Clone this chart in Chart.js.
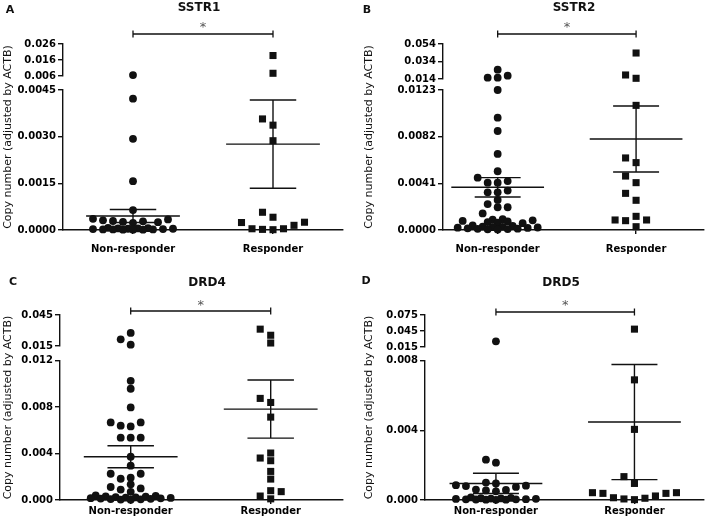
<!DOCTYPE html>
<html>
<head>
<meta charset="utf-8">
<script src="https://cdn.jsdelivr.net/npm/chart.js@4.4.0/dist/chart.umd.min.js"></script>
<style>
  html, body { margin: 0; padding: 0; background: #fff; }
  #wrap { position: relative; width: 709px; height: 524px; }
  #wrap canvas { position: absolute; }
</style>
</head>
<body>
<div id="wrap">
  <canvas id="cA" width="354" height="262" style="left:0;top:0"></canvas>
  <canvas id="cB" width="355" height="262" style="left:354px;top:0"></canvas>
  <canvas id="cC" width="354" height="262" style="left:0;top:262px"></canvas>
  <canvas id="cD" width="355" height="262" style="left:354px;top:262px"></canvas>
</div>
<script>
/* ---------- data ---------- */
const groups = ["Non-responder", "Responder"];
const yTitle = "Copy number (adjusted by ACTB)";

// A — SSTR1
const sstr1Non = [0.0066, 0.00422, 0.00293, 0.00157, 0.00064,
  0.00036, 0.00034, 0.00031, 0.00029, 0.00028, 0.00026, 0.00025, 0.00023,
  0.00007, 0.00006, 0.00005, 0.00005, 0.00004, 0.00004, 0.00003, 0.00003,
  0.00002, 0.00002, 0.00002, 0.00001, 0.00001, 0.00001];
const sstr1Resp = [0.0188, 0.0077, 0.00357, 0.00337, 0.00287, 0.00057, 0.00041,
  0.00025, 0.00015, 0.00024, 0.00004, 0.00001, 0.00002, 0.00004];
const sstr1Mean = [0.00045, 0.00276];
const sstr1Sem = [0.00021, 0.00142];
const sstr1LowTicks = ["0.0000", "0.0015", "0.0030", "0.0045"];
const sstr1TopTicks = ["0.006", "0.016", "0.026"];

// B — SSTR2
const sstr2Non = [0.0247, 0.0155, 0.0155, 0.0178, 0.0123, 0.00987, 0.0087, 0.00668,
  0.00516, 0.0046, 0.00416, 0.00416, 0.0043, 0.00331, 0.00331, 0.00346, 0.00228,
  0.002, 0.002, 0.00264, 0.00146,
  0.00095, 0.0009, 0.00085, 0.0008, 0.00075, 0.0007, 0.00065, 0.0006,
  0.0004, 0.00035, 0.0003, 0.00028, 0.00025, 0.00022, 0.0002, 0.00018, 0.00015,
  0.00012, 0.0001, 0.00008, 0.00006, 0.00004];
const sstr2Resp = [0.0437, 0.0186, 0.0148, 0.01095, 0.00633, 0.00592, 0.00474, 0.00416,
  0.00322, 0.00261, 0.0012, 0.00088, 0.00082, 0.00088, 0.00029];
const sstr2Mean = [0.00375, 0.0080];
const sstr2Sem = [0.00085, 0.0029];
const sstr2LowTicks = ["0.0000", "0.0041", "0.0082", "0.0123"];
const sstr2TopTicks = ["0.014", "0.034", "0.054"];

// C — DRD4
const drd4Non = [0.0277, 0.0215, 0.0163, 0.01025, 0.00957, 0.00796, 0.00667, 0.00639,
  0.00633, 0.00667, 0.00536, 0.00536, 0.00536, 0.00372, 0.00295, 0.00226, 0.00226,
  0.00183, 0.00192, 0.00135, 0.001, 0.00112, 0.0009, 0.0007,
  0.0004, 0.00035, 0.0003, 0.00028, 0.00025, 0.00022, 0.0002, 0.00018, 0.00016,
  0.00014, 0.00012, 0.0001, 0.00008, 0.00006, 0.00004, 0.00002];
const drd4Resp = [0.0254, 0.0313, 0.0179, 0.00874, 0.00839, 0.00713, 0.00404, 0.00338,
  0.00361, 0.00246, 0.0018, 0.00072, 0.00034, 0.0008, 0.0001];
const drd4Mean = [0.00372, 0.00782];
const drd4Sem = [0.00095, 0.0025];
const drd4LowTicks = ["0.000", "0.004", "0.008", "0.012"];
const drd4TopTicks = ["0.015", "0.045"];

// D — DRD5
const drd5Non = [0.0257, 0.00231, 0.00214,
  0.001, 0.00095, 0.00085, 0.00082, 0.0008, 0.00075, 0.0006, 0.00058, 0.00055, 0.0005,
  0.00015, 0.00012, 0.0001, 0.00009, 0.00008, 0.00007, 0.00006, 0.00005, 0.00004,
  0.00004, 0.00003, 0.00002, 0.00002, 0.00001];
const drd5Resp = [0.0485, 0.00689, 0.00405, 0.00134, 0.00095, 0.00042, 0.00042, 0.00023,
  0.0001, 0.00002, 0.00006, 0.00013, 0.00038, 0.00038];
const drd5Mean = [0.00095, 0.00447];
const drd5Sem = [0.00058, 0.0033];
const drd5LowTicks = ["0.000", "0.004", "0.008"];
const drd5TopTicks = ["0.015", "0.045", "0.075"];

/* ---------- panel layout ---------- */
const panels = [
  { id: "cA", letter: "A", title: "SSTR1", non: sstr1Non, resp: sstr1Resp, mean: sstr1Mean, sem: sstr1Sem,
    low: sstr1LowTicks, top: sstr1TopTicks,
    box: { left: 63, right: 343, top: 44, bottom: 230, w: 354, h: 262 }, cats: [133, 273], seg: [32, 14, 140],
    letterXY: [10, 10], titleXY: [199, 8], bracketY: 34, starY: 25, yTitleX: 11, labelPad: 9 },
  { id: "cB", letter: "B", title: "SSTR2", non: sstr2Non, resp: sstr2Resp, mean: sstr2Mean, sem: sstr2Sem,
    low: sstr2LowTicks, top: sstr2TopTicks,
    box: { left: 89, right: 353, top: 44, bottom: 230, w: 355, h: 262 }, cats: [144.3, 284.3], seg: [35, 11, 140],
    letterXY: [13, 10], titleXY: [220, 8], bracketY: 34, starY: 25, yTitleX: 18, labelPad: 9 },
  { id: "cC", letter: "C", title: "DRD4", non: drd4Non, resp: drd4Resp, mean: drd4Mean, sem: drd4Sem,
    low: drd4LowTicks, top: drd4TopTicks,
    box: { left: 60, right: 343, top: 53, bottom: 238, w: 354, h: 262 }, cats: [130.7, 270.7], seg: [31, 14.5, 139.5],
    letterXY: [13, 20], titleXY: [207, 21], bracketY: 49, starY: 41, yTitleX: 11, labelPad: 1 },
  { id: "cD", letter: "D", title: "DRD5", non: drd5Non, resp: drd5Resp, mean: drd5Mean, sem: drd5Sem,
    low: drd5LowTicks, top: drd5TopTicks,
    box: { left: 71, right: 353, top: 53, bottom: 238, w: 355, h: 262 }, cats: [142.7, 282.7], seg: [32, 13.5, 139.5],
    letterXY: [12, 19], titleXY: [207, 21], bracketY: 50, starY: 41, yTitleX: 18, labelPad: 1 },
];

Chart.defaults.font.family = "'DejaVu Sans', sans-serif";
Chart.defaults.color = "#000";
Chart.defaults.animation = false;

const INK = "#111";
const FONT = "'DejaVu Sans', sans-serif";

/* ---------- decorations: letter, title, y title, significance bar ---------- */
const deco = {
  id: "deco",
  afterDraw(chart, args, o) {
    const { ctx, chartArea, scales } = chart;
    ctx.save();
    ctx.fillStyle = INK;
    ctx.strokeStyle = INK;
    ctx.textAlign = "center";
    ctx.textBaseline = "middle";
    ctx.font = `bold 11px ${FONT}`;
    ctx.fillText(o.letter, o.letterXY[0], o.letterXY[1]);
    ctx.font = `bold 12px ${FONT}`;
    ctx.fillText(o.title, o.titleXY[0], o.titleXY[1]);

    ctx.save();
    ctx.translate(o.yTitleX, (chartArea.top + chartArea.bottom) / 2);
    ctx.rotate(-Math.PI / 2);
    ctx.font = `11px ${FONT}`;
    ctx.textBaseline = "alphabetic";
    ctx.fillText(yTitle, 0, 0);
    ctx.restore();

    const x1 = scales.x.getPixelForValue(1), x2 = scales.x.getPixelForValue(2);
    const y = o.bracketY;
    ctx.lineWidth = 1.3;
    ctx.beginPath();
    ctx.moveTo(x1, y); ctx.lineTo(x2, y);
    ctx.moveTo(x1, y - 3.5); ctx.lineTo(x1, y + 3.5);
    ctx.moveTo(x2, y - 3.5); ctx.lineTo(x2, y + 3.5);
    ctx.stroke();
    ctx.font = `13px ${FONT}`;
    ctx.fillStyle = "#555";
    ctx.fillText("*", (x1 + x2) / 2, o.starY + 3);
    ctx.restore();
  }
};

function semPath(cat, m, s) {
  const mw = 0.335, sw = 0.166;
  return [
    { x: cat - mw, y: m }, { x: cat + mw, y: m }, { x: cat, y: null },
    { x: cat - sw, y: m + s }, { x: cat + sw, y: m + s }, { x: cat, y: null },
    { x: cat - sw, y: m - s }, { x: cat + sw, y: m - s }, { x: cat, y: null },
    { x: cat, y: m - s }, { x: cat, y: m + s },
  ];
}

// spread points sideways (column scatter): roomy spacing first, packed spacing once a row gets wide
function swarm(chart, specs) {
  const xs = chart.scales.x;
  const unit = xs.getPixelForValue(2) - xs.getPixelForValue(1);
  specs.forEach(spec => {
    const items = [];
    spec.sets.forEach(i => {
      const d = chart.data.datasets[i];
      d.data.forEach(pt => items.push({ pt, py: chart.scales[d.yAxisID].getPixelForValue(pt.y) }));
    });
    items.sort((a, b) => b.py - a.py);
    const placed = [];
    const free = (off, py, dx) => placed.every(q => Math.abs(q.px - off) >= dx || Math.abs(q.py - py) >= spec.dy);
    items.forEach(it => {
      let pos = null;
      for (const [dx, lim] of [[spec.dx, spec.lim], [spec.dx2, 200]]) {
        for (let k = 0; k < 160 && pos === null; k++) {
          const off = (k % 2 ? -1 : 1) * Math.ceil(k / 2) * spec.step;
          if (Math.abs(off) > lim) break;
          if (free(off, it.py, dx)) pos = off;
        }
        if (pos !== null) break;
      }
      placed.push({ px: pos, py: it.py });
      it.pt.x = spec.cat + pos / unit;
    });
  });
  chart.update("none");
}

function makePanel(p) {
  const lowVals = p.low.map(Number), topVals = p.top.map(Number);
  const lowMax = lowVals[lowVals.length - 1];
  const unit = p.cats[1] - p.cats[0];
  const xMin = 1 - (p.cats[0] - p.box.left) / unit;
  const xMax = 2 + (p.box.right - p.cats[1]) / unit;

  const pts = (vals, cat, upper) => vals
    .filter(v => (upper ? v > lowMax : v <= lowMax))
    .map(v => ({ x: cat, y: v }));
  const mark = (style, r) => ({
    type: "scatter", pointStyle: style, pointRadius: r, pointHoverRadius: r,
    backgroundColor: INK, borderWidth: 0, clip: false,
  });

  const datasets = [
    { ...mark("circle", 3.9), data: pts(p.non, 1, false), yAxisID: "y" },
    { ...mark("circle", 3.9), data: pts(p.non, 1, true), yAxisID: "yTop" },
    { ...mark("rect", 5), data: pts(p.resp, 2, false), yAxisID: "y" },
    { ...mark("rect", 5), data: pts(p.resp, 2, true), yAxisID: "yTop" },
  ];
  [0, 1].forEach(i => datasets.push({
    type: "line", data: semPath(i + 1, p.mean[i], p.sem[i]), yAxisID: "y",
    borderColor: INK, borderWidth: 1.4, pointRadius: 0, spanGaps: false, clip: false,
  }));

  const tickFont = { family: FONT, size: 10, weight: "bold" };
  const yAxis = (vals, labels, weight) => ({
    type: "linear", position: "left", stack: "v", stackWeight: weight,
    min: vals[0], max: vals[vals.length - 1],
    afterBuildTicks: s => { s.ticks = vals.map(v => ({ value: v })); },
    afterFit: s => { s.width = p.box.left; },
    ticks: { callback: (v, i) => labels[i], font: tickFont, color: "#000", padding: 2, autoSkip: false },
    grid: { drawOnChartArea: false, drawTicks: true, tickLength: 5, color: INK, lineWidth: 1.4 },
    border: { color: INK, width: 1.4 },
  });

  const chart = new Chart(document.getElementById(p.id), {
    type: "scatter",
    data: { datasets },
    options: {
      responsive: false,
      layout: { padding: { left: 0, top: p.box.top, right: p.box.w - p.box.right, bottom: 0 } },
      plugins: {
        legend: { display: false },
        tooltip: { enabled: false },
        deco: p,
      },
      scales: {
        x: {
          type: "linear", min: xMin, max: xMax,
          afterBuildTicks: s => { s.ticks = [{ value: 1 }, { value: 2 }]; },
          afterFit: s => { s.height = p.box.h - p.box.bottom; },
          ticks: { callback: v => groups[v - 1], font: tickFont, color: "#000", padding: p.labelPad, maxRotation: 0, autoSkip: false },
          grid: { drawOnChartArea: false, drawTicks: true, tickLength: 4, color: INK, lineWidth: 1.4 },
          border: { color: INK, width: 1.4 },
        },
        y: yAxis(lowVals, p.low, p.seg[2]),
        yGap: { type: "linear", position: "left", stack: "v", stackWeight: p.seg[1], display: false },
        yTop: yAxis(topVals, p.top, p.seg[0]),
      },
    },
    plugins: [deco],
  });

  swarm(chart, [
    { sets: [0, 1], cat: 1, step: 5, dx: 10, dx2: 5, lim: 42, dy: 6.5 },
    { sets: [2, 3], cat: 2, step: 5.25, dx: 10.5, dx2: 10.5, lim: 60, dy: 7.5 },
  ]);
  return chart;
}

panels.forEach(makePanel);
</script>
</body>
</html>
